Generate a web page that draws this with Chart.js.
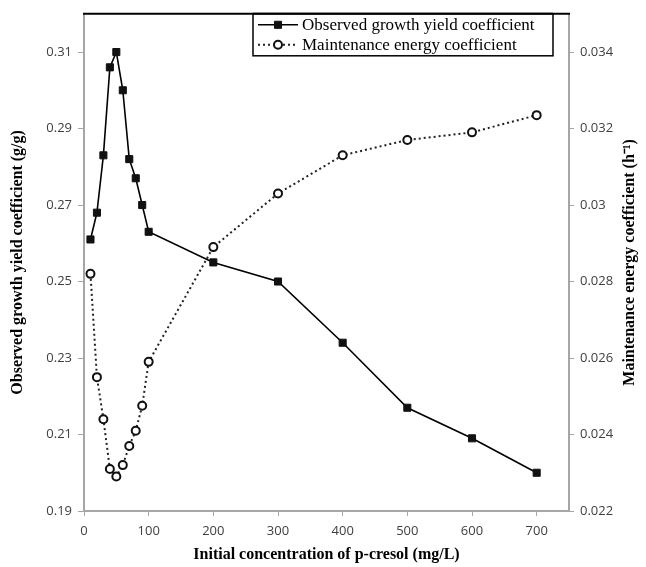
<!DOCTYPE html>
<html lang="en">

<head>
    <meta charset="UTF-8">
    <title>p-cresol growth yield and maintenance energy</title>
    <script src="https://cdn.jsdelivr.net/npm/chart.js"></script>
    <style>
        html, body { margin: 0; padding: 0; background: #fff; }
        #wrap { width: 646px; height: 567px; position: relative; }
    </style>
</head>

<body>
    <div id="wrap">
        <canvas id="yieldChart"></canvas>
    </div>

    <script>
        // Initial p-cresol concentrations (mg/L)
        var concentrations = [10, 20, 30, 40, 50, 60, 70, 80, 90, 100, 200, 300, 400, 500, 600, 700];
        // Observed growth yield coefficient (g/g)
        var growthYield = [0.261, 0.268, 0.283, 0.306, 0.310, 0.300, 0.282, 0.277, 0.270, 0.263, 0.255, 0.250, 0.234, 0.217, 0.209, 0.200];
        // Maintenance energy coefficient (1/h)
        var maintenance = [0.0282, 0.0255, 0.0244, 0.0231, 0.0229, 0.0232, 0.0237, 0.0241, 0.02475, 0.0259, 0.0289, 0.0303, 0.0313, 0.0317, 0.0319, 0.03235];

        var xTicks = [0, 100, 200, 300, 400, 500, 600, 700];
        var leftTicks = [0.19, 0.21, 0.23, 0.25, 0.27, 0.29, 0.31];
        var rightTicks = [0.022, 0.024, 0.026, 0.028, 0.03, 0.032, 0.034];

        var axisGray = '#a6a6a6';
        var tickFont = { family: 'Open Sans', size: 13 };
        var titleFont = { family: 'Liberation Serif', size: 16, weight: 'bold' };

        function toPoints(values) {
            return concentrations.map(function(c, i) { return { x: c, y: values[i] }; });
        }

        // legend box on the top edge, top border line and the right-hand title
        var decorations = {
            id: 'decorations',
            afterDraw: function(chart) {
                var ctx = chart.ctx;
                var area = chart.chartArea;
                ctx.save();

                ctx.strokeStyle = '#000';
                ctx.lineWidth = 2;
                ctx.beginPath();
                ctx.moveTo(area.left - 1, area.top);
                ctx.lineTo(area.right + 1, area.top);
                ctx.stroke();

                var bx = 253, by = area.top, bw = 300, bh = 42;
                ctx.fillStyle = '#fff';
                ctx.fillRect(bx, by, bw, bh);
                ctx.lineWidth = 1.5;
                ctx.strokeRect(bx, by, bw, bh);
                ctx.lineWidth = 2;
                ctx.beginPath();
                ctx.moveTo(bx, by);
                ctx.lineTo(bx + bw, by);
                ctx.stroke();

                var rows = [by + 11, by + 31];
                chart.data.datasets.forEach(function(ds, i) {
                    var y = rows[i];
                    ctx.save();
                    ctx.strokeStyle = ds.borderColor;
                    ctx.lineWidth = ds.borderWidth;
                    ctx.setLineDash(ds.borderDash || []);
                    ctx.beginPath();
                    ctx.moveTo(bx + 5, y);
                    ctx.lineTo(bx + 45, y);
                    ctx.stroke();
                    ctx.restore();

                    ctx.save();
                    ctx.fillStyle = ds.pointBackgroundColor;
                    ctx.strokeStyle = ds.pointBorderColor;
                    ctx.lineWidth = ds.pointBorderWidth;
                    Chart.helpers.drawPoint(ctx, {
                        pointStyle: ds.pointStyle,
                        radius: ds.pointRadius,
                        borderWidth: ds.pointBorderWidth
                    }, bx + 25, y);
                    ctx.restore();

                    ctx.fillStyle = '#000';
                    ctx.font = '17px "Liberation Serif"';
                    ctx.textBaseline = 'middle';
                    ctx.textAlign = 'left';
                    ctx.fillText(ds.label, bx + 49, y + 1);
                });

                ctx.translate(630, (area.top + area.bottom) / 2);
                ctx.rotate(-Math.PI / 2);
                ctx.font = 'bold 16px "Liberation Serif"';
                ctx.textAlign = 'center';
                ctx.textBaseline = 'middle';
                ctx.fillStyle = '#000';
                ctx.fillText('Maintenance energy coefficient (h\u207B\u00B9)', 0, 0);
                ctx.restore();
            }
        };

        var ctx = document.getElementById('yieldChart').getContext('2d');
        var chart = new Chart(ctx, {
            type: 'line',
            data: {
                datasets: [{
                    label: 'Observed growth yield coefficient',
                    data: toPoints(growthYield),
                    yAxisID: 'y',
                    borderColor: '#000',
                    backgroundColor: '#000',
                    borderWidth: 1.6,
                    pointStyle: 'rect',
                    pointRadius: 5,
                    pointBorderWidth: 1,
                    pointBackgroundColor: '#111',
                    pointBorderColor: '#111'
                }, {
                    label: 'Maintenance energy coefficient',
                    data: toPoints(maintenance),
                    yAxisID: 'y2',
                    borderColor: '#222',
                    backgroundColor: '#fff',
                    borderWidth: 2,
                    borderDash: [2, 3],
                    pointStyle: 'circle',
                    pointRadius: 4,
                    pointBorderWidth: 2,
                    pointBackgroundColor: '#fff',
                    pointBorderColor: '#111'
                }]
            },
            options: {
                responsive: true,
                maintainAspectRatio: false,
                animation: false,
                events: [],
                layout: { padding: { top: 13, left: 0, right: 0, bottom: 0 } },
                plugins: {
                    legend: { display: false },
                    tooltip: { enabled: false }
                },
                scales: {
                    x: {
                        type: 'linear',
                        min: 0,
                        max: 750,
                        afterBuildTicks: function(s) { s.ticks = xTicks.map(function(v) { return { value: v }; }); },
                        afterFit: function(s) { s.height = 56; },
                        border: { color: axisGray, width: 2 },
                        grid: { drawOnChartArea: false, color: axisGray, tickLength: 5 },
                        ticks: { font: tickFont, color: '#404040', padding: 7, maxRotation: 0 },
                        title: {
                            display: true,
                            text: 'Initial concentration of p-cresol (mg/L)',
                            font: titleFont,
                            color: '#000',
                            padding: { top: 0, bottom: 3 }
                        }
                    },
                    y: {
                        position: 'left',
                        min: 0.19,
                        max: 0.32,
                        afterBuildTicks: function(s) { s.ticks = leftTicks.map(function(v) { return { value: v }; }); },
                        afterFit: function(s) { s.width = 84; },
                        border: { color: axisGray, width: 2 },
                        grid: { drawOnChartArea: false, color: axisGray, tickLength: 6 },
                        ticks: {
                            font: tickFont,
                            color: '#404040',
                            padding: 6,
                            callback: function(v) { return v.toFixed(2); }
                        },
                        title: {
                            display: true,
                            text: 'Observed growth yield coefficient (g/g)',
                            font: titleFont,
                            color: '#000',
                            padding: { top: 8, bottom: 0 }
                        }
                    },
                    y2: {
                        position: 'right',
                        min: 0.022,
                        max: 0.035,
                        afterBuildTicks: function(s) { s.ticks = rightTicks.map(function(v) { return { value: v }; }); },
                        afterFit: function(s) { s.width = 77; },
                        border: { color: axisGray, width: 2 },
                        grid: { drawOnChartArea: false, color: axisGray, tickLength: 5 },
                        ticks: {
                            font: tickFont,
                            color: '#404040',
                            padding: 6,
                            callback: function(v) { return String(+v.toFixed(3)); }
                        }
                    }
                }
            },
            plugins: [decorations]
        });
    </script>
</body>

</html>
